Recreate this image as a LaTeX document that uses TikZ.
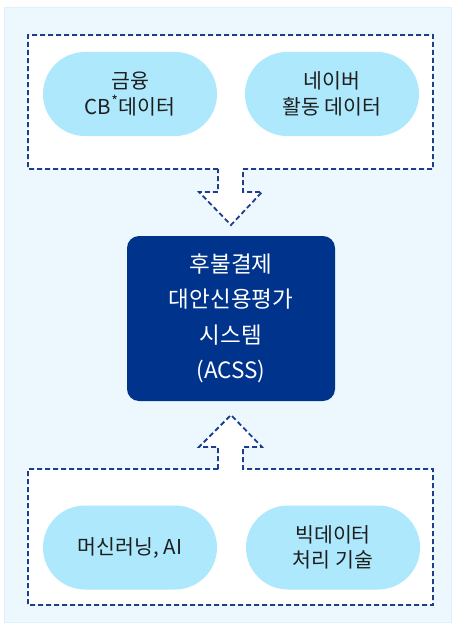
\documentclass[tikz,border=0pt]{standalone}
\usepackage{fontspec}
\setmainfont{Noto Sans CJK KR}
\usetikzlibrary{shapes.misc}
\definecolor{bgblue}{HTML}{ECF8FE}
\definecolor{bgedge}{HTML}{DCF1FB}
\definecolor{pillblue}{HTML}{ADE8FC}
\definecolor{dashblue}{HTML}{1B3F8E}
\definecolor{navy}{HTML}{00338C}
\definecolor{txt}{HTML}{1E1E1E}
\tikzset{
  pill/.style={rounded rectangle, fill=pillblue, minimum width=174pt, minimum height=84pt,
    inner sep=0pt, align=center, text=txt, font=\fontsize{20.5}{25.5}\selectfont},
  dashbox/.style={draw=dashblue, fill=white, line width=1.8pt, dash pattern=on 5pt off 3pt},
  core/.style={rectangle, rounded corners=12pt, fill=navy, minimum width=208pt, minimum height=165pt,
    inner sep=0pt, align=center, text=white, font=\fontsize{22.5}{35.5}\selectfont}
}
\begin{document}
\begin{tikzpicture}[x=1pt,y=-1pt]
\useasboundingbox (0,0) rectangle (453,626);
\fill[bgblue, draw=bgedge, line width=1pt] (4,8) rectangle (451,622);
% top dashed box with down arrow
\draw[dashbox] (218,169) -- (28,169) -- (28,35) -- (433,35) -- (433,169) -- (243,169)
  -- (243,192) -- (262,192) -- (231,225) -- (199,192) -- (218,192) -- cycle;
% bottom dashed box with up arrow
\draw[dashbox] (218,469) -- (28,469) -- (28,605) -- (433,605) -- (433,469) -- (243,469)
  -- (243,447) -- (262,447) -- (231,415) -- (199,447) -- (218,447) -- cycle;
% pills
\node[pill] (fin) at (130,94) {금융\\CB\textsuperscript{*}데이터};
\node[pill] (naver) at (332,94) {네이버\\활동 데이터};
\node[pill] (ml) at (130,547.5) {머신러닝, AI};
\node[pill] (big) at (333,547.5) {빅데이터\\처리 기술};
% core
\node[core] (acss) at (231,318.5) {후불결제\\대안신용평가\\시스템\\(ACSS)};
\end{tikzpicture}
\end{document}
